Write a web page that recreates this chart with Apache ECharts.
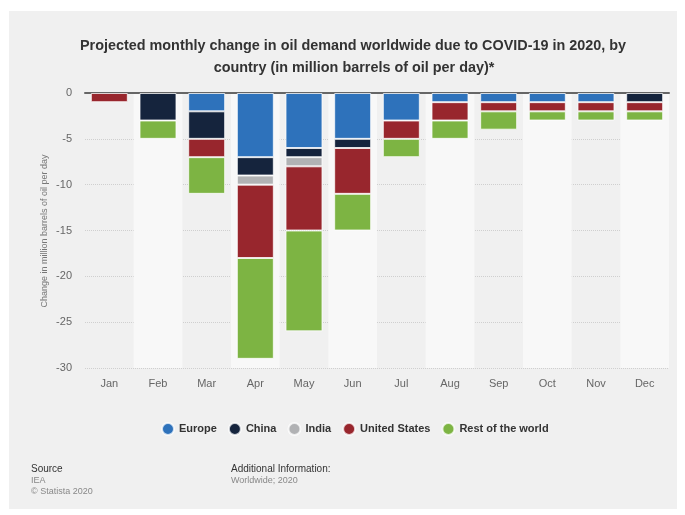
<!DOCTYPE html>
<html>
<head>
<meta charset="utf-8">
<script src="https://cdn.jsdelivr.net/npm/echarts@6/dist/echarts.min.js"></script>
<style>
html,body{margin:0;padding:0;background:#fff;}
#chart{width:685px;height:515px;}
</style>
</head>
<body>
<div id="chart"></div>
<script>
var months = ['Jan','Feb','Mar','Apr','May','Jun','Jul','Aug','Sep','Oct','Nov','Dec'];
var europe = [0, 0, -2, -7, -6, -5, -3, -1, -1, -1, -1, 0];
var china = [0, -3, -3, -2, -1, -1, 0, 0, 0, 0, 0, -1];
var india = [0, 0, 0, -1, -1, 0, 0, 0, 0, 0, 0, 0];
var unitedStates = [-1, 0, -2, -8, -7, -5, -2, -2, -1, -1, -1, -1];
var restOfWorld = [0, -2, -4, -11, -11, -4, -2, -2, -2, -1, -1, -1];
var yTicks = [0, -5, -10, -15, -20, -25, -30];

var seriesDefs = [
  {name:'Europe', data:europe, color:'#2e72bb'},
  {name:'China', data:china, color:'#15243d'},
  {name:'India', data:india, color:'#b1b2b4'},
  {name:'United States', data:unitedStates, color:'#98262d'},
  {name:'Rest of the world', data:restOfWorld, color:'#7db443'}
];

var chart = echarts.init(document.getElementById('chart'));
var font = '"Liberation Sans", Arial, Helvetica, sans-serif';
chart.setOption({
  backgroundColor:'#ffffff',
  textStyle:{fontFamily:font},
  graphic:[
    {type:'rect', z:-10, shape:{x:9, y:11, width:668, height:498}, style:{fill:'#f0f0f0'}},
    {type:'text', x:353, y:46, style:{text:'Projected monthly change in oil demand worldwide due to COVID-19 in 2020, by', fill:'#333', font:'bold 14.4px '+font, textAlign:'center', textVerticalAlign:'middle'}},
    {type:'text', x:354, y:68, style:{text:'country (in million barrels of oil per day)*', fill:'#333', font:'bold 14.4px '+font, textAlign:'center', textVerticalAlign:'middle'}},
    {type:'text', x:45, y:231, rotation:Math.PI/2, style:{text:'Change in million barrels of oil per day', fill:'#777', font:'9px '+font, textAlign:'center', textVerticalAlign:'middle'}},
    {type:'text', left:31, top:464, style:{text:'Source', fill:'#333', font:'10px '+font}},
    {type:'text', left:31, top:476, style:{text:'IEA', fill:'#888', font:'9px '+font}},
    {type:'text', left:31, top:487, style:{text:'© Statista 2020', fill:'#888', font:'9px '+font}},
    {type:'text', left:231, top:464, style:{text:'Additional Information:', fill:'#333', font:'10px '+font}},
    {type:'text', left:231, top:476, style:{text:'Worldwide; 2020', fill:'#888', font:'9px '+font}}
  ],
  legend:{
    top:422, left:161, padding:0,
    icon:'circle', itemWidth:12, itemHeight:12, itemGap:11,
    textStyle:{fontSize:11, fontWeight:'bold', color:'#333', fontFamily:font},
    data:seriesDefs.map(function(s){return s.name;})
  },
  grid:{left:85, right:16, top:93, bottom:147},
  xAxis:[
    {type:'category', data:months, position:'bottom',
     axisLine:{show:false, onZero:false}, axisTick:{show:false},
     axisLabel:{color:'#666', fontSize:11, margin:10},
     splitArea:{show:true, areaStyle:{color:['rgba(0,0,0,0)','#f8f8f8']}}
    },
    {type:'category', data:months, position:'top',
     axisLine:{show:true, lineStyle:{color:'#666', width:2}}, axisTick:{show:false},
     axisLabel:{show:false}
    }
  ],
  yAxis:{
    type:'value', min:-30, max:0, interval:5,
    axisLine:{show:false}, axisTick:{show:false},
    axisLabel:{color:'#666', fontSize:11, margin:13},
    splitLine:{lineStyle:{color:'#cfcfcf', type:'dotted'}}
  },
  series:seriesDefs.map(function(s){
    return {
      name:s.name, type:'bar', stack:'total', xAxisIndex:0,
      barWidth:'76%',
      itemStyle:{color:s.color, borderColor:'rgba(255,255,255,0.75)', borderWidth:1},
      data:s.data.map(function(v){return v === 0 ? '-' : v;})
    };
  })
});
</script>
</body>
</html>
